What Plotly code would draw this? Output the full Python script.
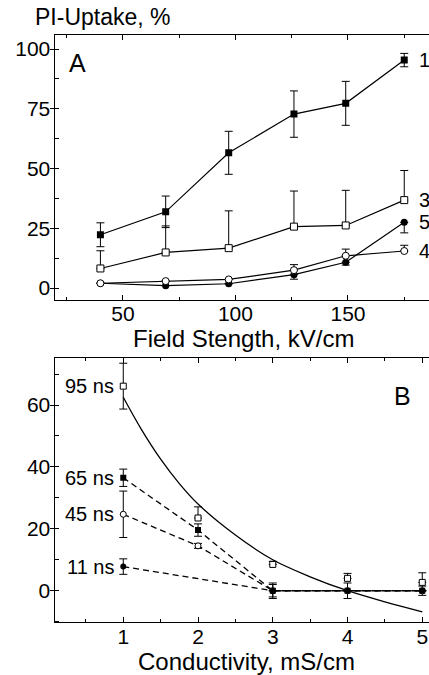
import plotly.graph_objects as go

# ---------------- Panel A data ----------------
field = [40, 69, 97, 126, 149, 175]
s1 = [22.3, 31.9, 56.6, 72.8, 77.3, 95.4]
s1_err = [5.0, 6.6, 9.0, 9.7, 9.2, 2.8]
s3 = [8.2, 14.9, 16.7, 25.7, 26.2, 36.8]
s3_err_up = [7.4, 11.1, 15.6, 14.9, 14.7, 12.4]
s5 = [2.0, 1.0, 1.8, 5.6, 10.8, 27.5]
s5_err_dn = [0.0, 0.0, 0.0, 1.9, 1.2, 4.4]
s4 = [2.0, 2.9, 3.6, 7.5, 13.5, 15.5]
s4_err_up = [0.0, 0.0, 0.0, 2.3, 2.8, 2.4]
series_labels_A = ["1", "3", "5", "4"]

# ---------------- Panel B data ----------------
cond = [1, 2, 3, 4, 5]
ns95 = [66.1, 23.5, 8.5, 4.0, 2.7]
ns95_err_up = [7.4, 3.6, 1.0, 1.6, 3.1]
ns95_err_dn = [7.4, 0.0, 0.0, 0.0, 0.0]
ns65 = [36.5, 19.6, 0.0, 0.0, 0.0]
ns65_err = [2.8, 2.0, 2.5, 2.5, 1.5]
ns45 = [24.7, 14.5, 0.0, 0.0, 0.0]
ns45_err = [7.5, 0.8, 0.0, 0.0, 0.0]
cond11 = [1, 3, 4, 5]
ns11 = [7.8, 0.0, 0.0, 0.0]
ns11_err = [2.5, 2.0, 0.0, 0.0]
# solid curve through the 95 ns data
fit_x = [1.0, 1.25, 1.5, 1.75, 2.0, 2.5, 3.0, 3.5, 4.0, 4.5, 5.0]
fit_y = [62.5, 51.8, 42.5, 34.6, 28.0, 18.0, 10.0, 4.5, 0.0, -3.6, -6.8]
ns_labels = ["95 ns", "65 ns", "45 ns", "11 ns"]

FONT = "Liberation Sans, Arial, Helvetica, sans-serif"
BLK = "black"

fig = go.Figure()

def eb(arr, arrminus=None, width=4):
    d = dict(type="data", array=arr, color=BLK, thickness=1, width=width, visible=True)
    if arrminus is not None:
        d["symmetric"] = False
        d["arrayminus"] = arrminus
    return d

lineA = dict(color=BLK, width=1.2)
# Panel A traces
fig.add_trace(go.Scatter(x=field, y=s1, mode="lines+markers", line=lineA,
                         marker=dict(symbol="square", size=7, color=BLK),
                         error_y=eb(s1_err), xaxis="x", yaxis="y"))
fig.add_trace(go.Scatter(x=field, y=s3, mode="lines+markers", line=lineA,
                         marker=dict(symbol="square", size=7, color="white", line=dict(color=BLK, width=1)),
                         error_y=eb(s3_err_up, [0]*6), xaxis="x", yaxis="y"))
fig.add_trace(go.Scatter(x=field, y=s5, mode="lines+markers", line=lineA,
                         marker=dict(symbol="circle", size=7, color=BLK),
                         error_y=eb([0]*6, s5_err_dn), xaxis="x", yaxis="y"))
fig.add_trace(go.Scatter(x=field, y=s4, mode="lines+markers", line=lineA,
                         marker=dict(symbol="circle", size=7, color="white", line=dict(color=BLK, width=1)),
                         error_y=eb(s4_err_up, [0]*6), xaxis="x", yaxis="y"))

# Panel B traces
dash = "6px,4px"
fig.add_trace(go.Scatter(x=fit_x, y=fit_y, mode="lines", line=dict(color=BLK, width=1.3, shape="spline"),
                         xaxis="x2", yaxis="y2"))
fig.add_trace(go.Scatter(x=cond, y=ns65, mode="lines+markers", line=dict(color=BLK, width=1.3, dash=dash),
                         marker=dict(symbol="square", size=6, color=BLK),
                         error_y=eb(ns65_err), xaxis="x2", yaxis="y2"))
fig.add_trace(go.Scatter(x=cond, y=ns45, mode="lines+markers", line=dict(color=BLK, width=1.3, dash=dash),
                         marker=dict(symbol="circle", size=6, color="white", line=dict(color=BLK, width=1)),
                         error_y=eb(ns45_err), xaxis="x2", yaxis="y2"))
fig.add_trace(go.Scatter(x=cond11, y=ns11, mode="lines+markers", line=dict(color=BLK, width=1.3, dash=dash),
                         marker=dict(symbol="circle", size=6, color=BLK),
                         error_y=eb(ns11_err), xaxis="x2", yaxis="y2"))
fig.add_trace(go.Scatter(x=cond, y=ns95, mode="markers",
                         marker=dict(symbol="square", size=6, color="white", line=dict(color=BLK, width=1)),
                         error_y=eb(ns95_err_up, ns95_err_dn), xaxis="x2", yaxis="y2"))

tickfont = dict(family=FONT, size=21, color=BLK)
common_x = dict(showline=True, linecolor=BLK, linewidth=1, mirror="ticks", ticks="inside", ticklen=5,
                tickcolor=BLK, tickwidth=1, showgrid=False, zeroline=False, tickfont=tickfont,
                ticklabeloverflow="allow", ticklabelstandoff=-5)
common_y = dict(showline=True, linecolor=BLK, linewidth=1, ticks="outside", ticklen=4,
                tickcolor=BLK, tickwidth=1, showgrid=False, zeroline=False, tickfont=tickfont,
                ticklabelstandoff=-5)

xd = [54.5 / 429, 1.0]
fig.update_layout(
    width=429, height=675,
    margin=dict(l=0, r=0, t=0, b=0),
    paper_bgcolor="white", plot_bgcolor="white",
    showlegend=False,
    font=dict(family=FONT, color=BLK),
    xaxis=dict(common_x, domain=xd, range=[19.6, 186], tickvals=[50, 100, 150], anchor="y",
               minor=dict(ticks="inside", ticklen=3, tickcolor=BLK, dtick=25, tick0=0, showgrid=False)),
    yaxis=dict(common_y, domain=[1 - 300 / 675, 1 - 35 / 675], range=[-5.0, 105.9],
               tickvals=[0, 25, 50, 75, 100], anchor="x",
               minor=dict(ticks="inside", ticklen=4, tickcolor=BLK, dtick=12.5, tick0=0, showgrid=False)),
    xaxis2=dict(common_x, domain=xd, range=[0.08, 5.09], tickvals=[1, 2, 3, 4, 5], anchor="y2",
                minor=dict(ticks="inside", ticklen=3, tickcolor=BLK, dtick=0.5, tick0=0, showgrid=False)),
    yaxis2=dict(common_y, domain=[1 - 622.3 / 675, 1 - 358.3 / 675], range=[-10.2, 75.1],
                tickvals=[0, 20, 40, 60], anchor="x2",
                minor=dict(ticks="inside", ticklen=4, tickcolor=BLK, dtick=10, tick0=0, showgrid=False)),
)

ann = []
# axis titles
ann.append(dict(text="PI-Uptake, %", xref="paper", yref="paper", x=33 / 429, y=1 - 17 / 675,
                xanchor="left", yanchor="middle", showarrow=False, font=dict(family=FONT, size=23, color=BLK)))
ann.append(dict(text="Field Stength, kV/cm", xref="paper", yref="paper", x=243 / 429, y=1 - 338 / 675,
                xanchor="center", yanchor="middle", showarrow=False, font=dict(family=FONT, size=24, color=BLK)))
ann.append(dict(text="Conductivity, mS/cm", xref="paper", yref="paper", x=246 / 429, y=1 - 661 / 675,
                xanchor="center", yanchor="middle", showarrow=False, font=dict(family=FONT, size=24, color=BLK)))
# panel letters
ann.append(dict(text="A", xref="x", yref="y", x=30, y=94, xanchor="center", yanchor="middle",
                showarrow=False, font=dict(family=FONT, size=25, color=BLK)))
ann.append(dict(text="B", xref="x2", yref="y2", x=4.74, y=63, xanchor="center", yanchor="middle",
                showarrow=False, font=dict(family=FONT, size=25, color=BLK)))
# series labels panel A
for lab, yv in zip(series_labels_A, [s1[-1], s3[-1], s5[-1], s4[-1]]):
    ann.append(dict(text=lab, xref="x", yref="y", x=184, y=yv, xanchor="center", yanchor="middle",
                    showarrow=False, font=dict(family=FONT, size=20, color=BLK)))
# ns labels panel B
for lab, yv in zip(ns_labels, [ns95[0], ns65[0], ns45[0], ns11[0]]):
    ann.append(dict(text=lab, xref="x2", yref="y2", x=0.9, y=yv, xanchor="right", yanchor="middle",
                    showarrow=False, font=dict(family=FONT, size=20, color=BLK)))
fig.update_layout(annotations=ann)

fig.write_html("out.html", config={"displayModeBar": False},
               post_script="document.body.style.margin='0px';document.body.style.overflow='hidden';")
